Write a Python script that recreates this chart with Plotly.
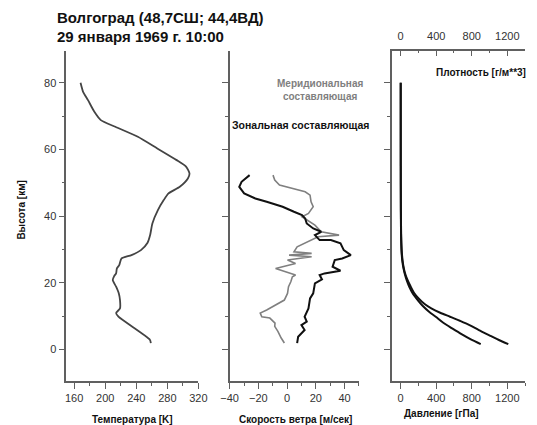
import plotly.graph_objects as go

W, H = 537, 425

# Temperature profile
temp_T = [258.7, 257.5, 217.0, 214.0, 219.0, 219.0, 217.5, 214.0, 209.7, 211.5, 214.0, 215.0, 218.0, 221.0,
          233.8, 246.0, 254.5, 257.8, 260.7, 267.8, 275.3, 281.5, 296.0, 306.4, 308.5, 304.3, 291.9, 267.0,
          242.0, 213.0, 194.3, 186.0, 177.8, 171.5, 168.2]
temp_h = [1.9, 2.9, 9.8, 10.9, 12.3, 14.8, 16.8, 18.8, 20.8, 22.0, 22.8, 24.3, 25.3, 27.3,
          28.3, 29.8, 32.0, 34.3, 37.8, 41.8, 44.8, 46.8, 48.8, 51.3, 52.8, 54.8, 56.8, 60.3,
          63.8, 66.8, 68.8, 71.3, 74.8, 77.3, 80.0]

# Zonal wind component
zon_u = [7.0, 7.7, 12.2, 10.0, 13.7, 12.2, 14.9, 16.0, 18.2, 19.4, 24.3, 22.7, 26.1, 37.2, 31.7, 33.2,
         38.4, 44.4, 39.5, 37.2, 30.5, 22.7, 19.4, 23.8, 18.2, 13.7, 12.6, 10.4, 4.8, -3.1, -14.2,
         -22.1, -29.9, -33.3, -31.7, -26.1]
zon_h = [1.9, 3.8, 5.8, 7.3, 8.3, 9.8, 12.3, 15.3, 16.8, 19.8, 21.0, 22.3, 22.8, 23.6, 24.8, 26.8,
         27.3, 28.3, 29.8, 31.8, 32.8, 32.8, 34.3, 35.3, 36.3, 37.8, 39.3, 40.3, 41.3, 42.8, 44.3,
         45.3, 46.8, 48.8, 50.3, 52.3]

# Meridional wind component
mer_u = [-1.9, -4.1, -6.4, -8.6, -8.4, -12.0, -17.6, -18.7, -14.2, -7.5, -1.9, 0.3, 1.0, 2.6, 3.7, 5.9,
         -8.0, 5.9, 0.3, 17.1, 1.4, 17.1, 4.8, 7.0, 14.9, 21.6, 36.2, 23.8, 19.4, 13.7, 10.4, 14.9,
         18.2, 16.7, 16.0, 12.6, 3.7, -5.3, -8.6, -9.8]
mer_h = [1.9, 3.4, 5.4, 6.9, 7.9, 9.4, 9.8, 10.9, 11.8, 13.3, 14.8, 16.8, 18.8, 20.3, 21.8, 22.3,
         24.3, 25.8, 26.8, 27.8, 28.3, 28.8, 29.3, 30.8, 32.3, 33.8, 34.3, 35.3, 37.3, 38.8, 39.8, 40.8,
         42.8, 44.3, 46.3, 47.3, 48.3, 49.3, 50.8, 52.3]

# Pressure [hPa]
pres_p = [901, 790, 690, 580, 480, 395, 320, 250, 192, 140, 100, 70, 47, 30, 18, 10, 5, 2.5, 1.5, 1]
pres_h = [1.6, 3.0, 4.5, 6.3, 8.0, 9.8, 11.3, 13.0, 14.8, 16.6, 18.6, 20.6, 22.6, 24.6, 26.8, 29.5, 34.0,
          42.0, 55.0, 80.0]

# Density [g/m**3]
dens_d = [1211, 1100, 993, 880, 775, 665, 556, 445, 345, 270, 205, 150, 110, 75, 48, 28, 15, 7, 3, 1.5, 1]
dens_h = [1.6, 2.9, 4.3, 5.8, 7.3, 8.6, 9.8, 11.0, 12.3, 13.6, 15.2, 17.0, 19.0, 21.0, 23.0, 25.5, 28.5,
          33.5, 42.0, 55.0, 80.0]

AXC = "#606060"
TXC = "#333333"
FONT = "Liberation Sans, Arial, sans-serif"

def px(x):
    return x / W

def py(y):
    return 1 - y / H

fig = go.Figure()
fig.add_trace(go.Scatter(x=temp_T, y=temp_h, mode="lines",
                         line=dict(color="#444444", width=1.8, shape="spline", smoothing=0.6),
                         xaxis="x", yaxis="y", showlegend=False))
fig.add_trace(go.Scatter(x=mer_u, y=mer_h, mode="lines", line=dict(color="#808080", width=1.6),
                         xaxis="x2", yaxis="y2", showlegend=False))
fig.add_trace(go.Scatter(x=zon_u, y=zon_h, mode="lines", line=dict(color="#111111", width=2),
                         xaxis="x2", yaxis="y2", showlegend=False))
fig.add_trace(go.Scatter(x=pres_p, y=pres_h, mode="lines",
                         line=dict(color="#111111", width=2, shape="spline", smoothing=0.8),
                         xaxis="x3", yaxis="y3", showlegend=False))
fig.add_trace(go.Scatter(x=dens_d, y=dens_h, mode="lines",
                         line=dict(color="#111111", width=2, shape="spline", smoothing=0.8),
                         xaxis="x4", yaxis="y3", showlegend=False))

yr = [-9.4, 89.7]
ydom = [py(380.7), py(50.5)]

def xax(dom, rng, dtick, mdtick, anchor, **kw):
    d = dict(domain=dom, range=rng, anchor=anchor, showline=True, linecolor=AXC, linewidth=1.7,
             ticks="outside", ticklen=6, tickwidth=1.3, tickcolor=AXC, dtick=dtick, tick0=0,
             showgrid=False, zeroline=False,
             tickfont=dict(family=FONT, size=11, color=TXC),
             minor=dict(dtick=mdtick, tick0=0, ticks="outside", ticklen=3, tickcolor=AXC, tickwidth=1.2))
    d.update(kw)
    return d

def yax(dom, anchor, labels):
    return dict(domain=dom, range=yr, anchor=anchor, showline=True, linecolor=AXC, linewidth=1.7,
                ticks="outside", ticklen=6, tickwidth=1.3, tickcolor=AXC, dtick=20, tick0=0,
                showticklabels=labels, showgrid=False, zeroline=False,
                tickfont=dict(family=FONT, size=11, color=TXC),
                minor=dict(dtick=10, tick0=0, ticks="outside", ticklen=3, tickcolor=AXC, tickwidth=1.2))

annotations = [
    dict(text="<b>Волгоград (48,7СШ; 44,4ВД)</b>", x=px(48), y=py(17), xanchor="left", yanchor="middle",
         font=dict(family=FONT, size=15, color="#111111")),
    dict(text="<b>29 января 1969 г. 10:00</b>", x=px(48), y=py(37), xanchor="left", yanchor="middle",
         font=dict(family=FONT, size=15, color="#111111")),
    dict(text="<b>Высота [км]</b>", x=px(12), y=py(210), textangle=-90, xanchor="center", yanchor="middle",
         font=dict(family=FONT, size=10, color="#111111")),
    dict(text="<b>Температура [K]</b>", x=px(128), y=py(419), xanchor="center", yanchor="middle",
         font=dict(family=FONT, size=10, color="#111111")),
    dict(text="<b>Скорость ветра [м/сек]</b>", x=px(296), y=py(419), xanchor="center", yanchor="middle",
         font=dict(family=FONT, size=10, color="#111111")),
    dict(text="<b>Давление [гПа]</b>", x=px(447), y=py(413), xanchor="center", yanchor="middle",
         font=dict(family=FONT, size=10, color="#111111")),
    dict(text="<b>Меридиональная<br>составляющая</b>", x=px(322), y=py(90), xanchor="center", yanchor="middle",
         align="center", font=dict(family=FONT, size=10, color="#808080")),
    dict(text="<b>Зональная составляющая</b>", x=px(302), y=py(125), xanchor="center", yanchor="middle",
         font=dict(family=FONT, size=10.5, color="#111111")),
    dict(text="<b>Плотность [г/м**3]</b>", x=px(537), y=py(72), xanchor="right", yanchor="middle",
         font=dict(family=FONT, size=10, color="#111111")),
]
for a in annotations:
    a.update(xref="paper", yref="paper", showarrow=False)

fig.update_layout(
    width=W, height=H,
    margin=dict(l=0, r=0, t=0, b=0),
    paper_bgcolor="white", plot_bgcolor="white",
    font=dict(family=FONT, size=11, color=TXC),
    xaxis=xax([px(59.4), px(196)], [150, 320], 40, 20, "y"),
    xaxis2=xax([px(228.3), px(362)], [-40, 50], 20, 10, "y2"),
    xaxis3=xax([px(396), px(534)], [-100, 1400], 400, 200, "y3"),
    xaxis4=xax([px(396), px(534)], [-100, 1400], 400, 200, "y3", overlaying="x3", side="top",
               ticks="inside", ticklabelstandoff=4,
               minor=dict(dtick=200, tick0=0, ticks="inside", ticklen=3, tickcolor=AXC, tickwidth=1.2)),
    yaxis=yax(ydom, "x", True),
    yaxis2=yax(ydom, "x2", False),
    yaxis3=yax(ydom, "x3", False),
    annotations=annotations,
)

fig.write_html("out.html")
